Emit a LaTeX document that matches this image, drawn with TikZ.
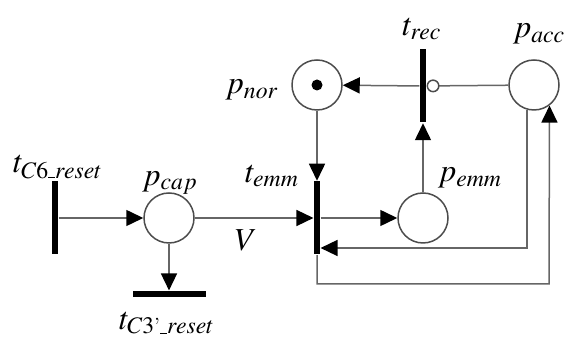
\documentclass[tikz,border=0pt]{standalone}
\usepackage{mathptmx}
\usetikzlibrary{arrows.meta}
\newcommand{\usc}{\rule[-0.2pt]{3.5pt}{0.5pt}}

\begin{document}
\begin{tikzpicture}[x=0.5pt,y=-0.5pt,->,>={Triangle[length=8.5pt,width=8pt,color=black]},
  draw=black!60,line width=0.75pt,font=\fontsize{16}{18}\selectfont,
  place/.style={circle,draw=black!70,minimum size=25pt,inner sep=0pt},
  vbar/.style={fill=black,draw=none,minimum width=2.8pt,minimum height=36.5pt,inner sep=0pt},
  hbar/.style={fill=black,draw=none,minimum width=36.5pt,minimum height=2.8pt,inner sep=0pt},
  lbl/.style={inner sep=0pt}]
  \useasboundingbox (0,0) rectangle (572,340);

  % places
  \node[place] (pcap) at (169,218) {};
  \node[place] (pnor) at (317,85) {};
  \node[place] (pemm) at (423,218) {};
  \node[place] (pacc) at (534,85) {};
  \node[circle,fill=black,inner sep=0pt,minimum size=5.5pt] (tok) at (pnor) {};

  % transitions
  \node[vbar] (tc6) at (55,218) {};
  \node[hbar] (tc3) at (169,294) {};
  \node[vbar] (temm) at (317,218) {};
  \node[vbar] (trec) at (423,86) {};

  % labels
  \node[lbl] (lc6) at (58,167) {$t_{C6\usc reset}$};
  \node[lbl] (lcap) at (170,183) {$p_{cap}$};
  \node[lbl] (lc3) at (167,323) {$t_{C3\mbox{\fontsize{11}{12}\selectfont '}\usc reset}$};
  \node[lbl] (ltemm) at (272,176) {$t_{emm}$};
  \node[lbl] (lv) at (246,240) {$V$};
  \node[lbl] (lnor) at (252,90) {$p_{nor}$};
  \node[lbl] (lrec) at (422,29) {$t_{rec}$};
  \node[lbl] (lacc) at (539,34) {$p_{acc}$};
  \node[lbl] (lemm) at (470,178) {$p_{emm}$};

  \coordinate (accret) at (527,248);
  \coordinate (accbot) at (549,284);

  \path
    (tc6) edge (pcap)
    (pcap) edge (tc3)
    (pcap) edge (temm)
    (temm) edge (pemm)
    (pnor) edge (temm)
    (pemm) edge (trec)
    (trec) edge (pnor)
  ;
  \draw[-{Circle[open,length=6.5pt,color=black!70]}] (pacc) -- (trec);
  \draw (pacc.-106) |- (temm.east |- accret);
  \draw (temm.south) |- (accbot) -- (pacc.-53);
\end{tikzpicture}
\end{document}
